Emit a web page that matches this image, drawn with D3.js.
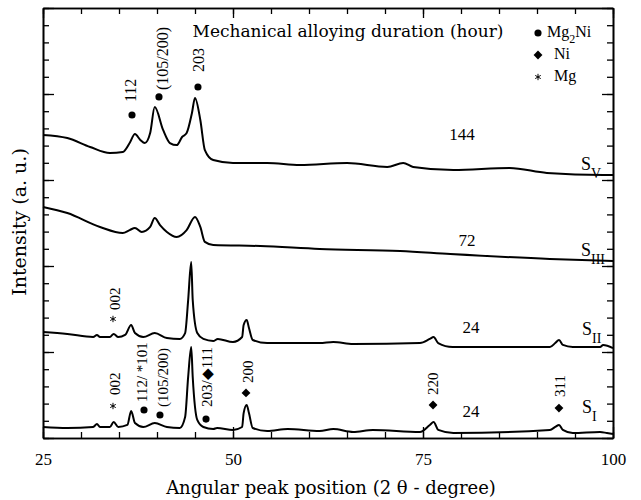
<!DOCTYPE html>
<html>
<head>
<meta charset="utf-8">
<script src="https://cdn.jsdelivr.net/npm/d3@7"></script>
<style>
body { margin: 0; background: #fff; }
text { fill: #000; }
</style>
</head>
<body>
<svg id="chart" width="641" height="500"></svg>
<script>
// [2 theta (degree), intensity (a.u., stacked)]
var trace_SV = [[25.0,17.62],[28.2,17.44],[31.2,16.92],[33.8,16.57],[35.5,16.63],[36.4,17.15],[37.1,17.67],[37.8,17.33],[38.4,17.15],[39.1,17.73],[39.7,19.24],[40.8,17.91],[41.7,17.15],[42.6,17.03],[43.3,17.50],[43.9,17.73],[44.6,18.90],[45.0,19.77],[45.7,18.49],[46.3,16.74],[47.4,16.16],[50.0,15.99],[54.5,15.99],[58.8,15.87],[65.0,15.99],[70.3,15.76],[72.4,15.99],[73.7,15.76],[79.0,15.58],[86.4,15.70],[91.3,15.41],[98.7,15.29],[100,15.29]];

var trace_SIII = [[25.0,13.43],[28.2,13.08],[32.5,12.27],[35.5,11.92],[36.4,12.09],[37.1,12.21],[38.0,11.98],[39.1,12.27],[39.7,12.79],[40.4,12.38],[41.3,11.98],[42.6,11.69],[43.9,12.09],[45.0,12.85],[45.7,12.27],[46.3,11.40],[47.4,11.22],[53.6,11.16],[61.4,10.99],[72.0,10.87],[78.6,10.70],[91.7,10.41],[100,10.29]];

var trace_SII = [[25.0,6.16],[28.2,6.05],[31.6,5.87],[32.1,5.99],[32.5,5.87],[33.8,5.87],[34.3,6.05],[34.9,5.87],[35.8,5.99],[36.6,6.57],[37.1,6.10],[38.2,5.87],[39.7,6.10],[41.3,5.81],[43.0,5.76],[43.7,6.10],[44.1,8.02],[44.5,10.23],[44.7,8.02],[45.3,6.10],[46.1,5.76],[47.4,5.64],[48.0,5.76],[50.0,5.58],[51.2,5.87],[51.4,6.57],[51.8,6.86],[52.1,6.40],[52.6,5.70],[54.5,5.52],[57.5,5.52],[61.4,5.52],[63.2,5.58],[65.8,5.47],[74.6,5.52],[75.9,5.76],[76.4,5.87],[77.0,5.52],[78.9,5.29],[91.7,5.29],[92.4,5.52],[92.9,5.70],[93.4,5.41],[94.7,5.29],[98.3,5.29],[98.7,5.41],[100,5.23]];

var trace_SI = [[25.0,0.64],[28.2,0.58],[31.6,0.64],[32.1,0.81],[32.5,0.64],[33.8,0.64],[34.3,0.93],[34.9,0.64],[36.1,0.76],[36.6,1.57],[37.1,0.87],[38.2,0.64],[39.7,0.87],[41.3,0.64],[43.0,0.58],[43.7,1.22],[44.1,3.55],[44.5,5.29],[44.7,3.55],[45.3,1.05],[46.1,0.64],[47.4,0.52],[47.9,0.58],[50.0,0.47],[51.2,0.64],[51.4,1.45],[51.8,1.92],[52.1,1.45],[52.6,0.58],[54.5,0.41],[57.2,0.52],[61.4,0.41],[63.2,0.52],[65.8,0.35],[68.4,0.47],[74.6,0.35],[75.9,0.76],[76.4,0.93],[77.0,0.47],[79.0,0.29],[91.7,0.47],[92.4,0.64],[92.9,0.76],[93.4,0.47],[94.7,0.29],[98.3,0.35],[99.2,0.29],[100,0.23]];

var traces = [trace_SV, trace_SIII, trace_SII, trace_SI];
var sample_names = ['V', 'III', 'II', 'I'];
var sample_pos = [[95.79,15.60],[95.79,10.58],[95.92,5.99],[95.92,1.45]];
var durations = ['144', '72', '24', '24'];
var duration_pos = [[80.13,17.33],[80.79,11.16],[81.32,6.10],[81.32,1.22]];

// phase markers: symbol, 2 theta, intensity
var peak_marks = [
	['circle',36.71,18.78],['circle',40.26,19.83],['circle',45.39,20.41],
	['asterisk',34.21,6.92],
	['asterisk',34.21,1.86],['circle',38.29,1.63],['circle',40.39,1.34],['circle',46.45,1.10],
	['diamond',51.71,2.62],['diamond',76.32,1.92],['diamond',92.89,1.74]
];
// hkl labels: text, 2 theta, intensity (start of vertical text)
var hkl_top = [['112',36.45,19.53],['(105/200)',40.66,20.23],['203',45.39,21.28]];
var hkl_bottom = [
	['002',34.47,7.44],['002',34.47,2.50],['112/ *101',38.03,2.09],['(105/200)',40.79,1.80],
	['203/\u25C6111',46.58,1.80],['200',51.97,3.20],['220',76.32,2.50],['311',93.03,2.38]
];

var legend_symbols = ['circle', 'diamond', 'asterisk'];
var legend_names = [['Mg','2','Ni'], ['Ni','',''], ['Mg','','']];
var x_labels = [25, 50, 75, 100];

var W = 641, H = 500;
var margin = {top: 8, right: 28, bottom: 62, left: 43};
var SERIF = '"Liberation Serif", "Times New Roman", serif';
var WIDE_SERIF = '"DejaVu Serif", serif';

var svg = d3.select('#chart');
var x = d3.scaleLinear().domain([25, 100]).range([margin.left, W - margin.right]);
var y = d3.scaleLinear().domain([0, 25]).range([H - margin.bottom, margin.top]);

function symbol_path(name)
{
	if(name == 'circle') return d3.symbol(d3.symbolCircle, 40)();
	if(name == 'diamond') return d3.symbol(d3.symbolDiamond2, 50)();
	return d3.symbol(d3.symbolAsterisk, 28)();
}

function draw_marker(g, name, px, py)
{
	var p = g.append('path')
		.attr('d', symbol_path(name))
		.attr('transform', 'translate(' + px + ',' + py + ')');
	if(name == 'asterisk')
		p.attr('fill', 'none').attr('stroke', '#000').attr('stroke-width', 1);
	else
		p.attr('fill', '#000');
}

function style_axis(g)
{
	g.select('.domain').attr('stroke', '#000').attr('stroke-width', 1.6);
	g.selectAll('.tick line').attr('stroke', '#000').attr('stroke-width', 1.3);
}

function draw_axes()
{
	var minor_x = d3.range(25, 101, 5);
	var minor_y = d3.range(0, 26, 1);
	var major_y = d3.range(0, 26, 5);
	var y0 = y(0), y1 = y(25), x0 = x(25), x1 = x(100);

	var bottom = svg.append('g').attr('transform', 'translate(0,' + y0 + ')');
	bottom.append('g').call(d3.axisBottom(x).tickValues(minor_x).tickSizeInner(-6).tickSizeOuter(0).tickFormat(''));
	bottom.append('g').call(d3.axisBottom(x).tickValues(x_labels).tickSizeInner(-11).tickSizeOuter(0).tickPadding(15))
		.selectAll('text').style('font-family', SERIF).style('font-size', '17px');

	var top = svg.append('g').attr('transform', 'translate(0,' + y1 + ')');
	top.append('g').call(d3.axisTop(x).tickValues(minor_x).tickSizeInner(-6).tickSizeOuter(0).tickFormat(''));
	top.append('g').call(d3.axisTop(x).tickValues(x_labels).tickSizeInner(-10).tickSizeOuter(0).tickFormat(''));

	var left = svg.append('g').attr('transform', 'translate(' + x0 + ',0)');
	left.append('g').call(d3.axisLeft(y).tickValues(minor_y).tickSizeInner(-6).tickSizeOuter(0).tickFormat(''));
	left.append('g').call(d3.axisLeft(y).tickValues(major_y).tickSizeInner(-11).tickSizeOuter(0).tickFormat(''));

	var right = svg.append('g').attr('transform', 'translate(' + x1 + ',0)');
	right.append('g').call(d3.axisRight(y).tickValues(minor_y).tickSizeInner(-6).tickSizeOuter(0).tickFormat(''));
	right.append('g').call(d3.axisRight(y).tickValues(major_y).tickSizeInner(-11).tickSizeOuter(0).tickFormat(''));

	svg.selectAll('g').each(function() { style_axis(d3.select(this)); });
	svg.selectAll('.tick text').attr('fill', '#000');

	svg.append('text')
		.attr('x', 331).attr('y', 494)
		.attr('text-anchor', 'middle')
		.style('font-family', WIDE_SERIF).style('font-size', '18px')
		.text('Angular peak position (2 \u03B8 - degree)');

	svg.append('text')
		.attr('transform', 'translate(26,' + 222 + ') rotate(-90)')
		.attr('text-anchor', 'middle')
		.style('font-family', WIDE_SERIF).style('font-size', '19px')
		.text('Intensity (a. u.)');
}

function draw_traces()
{
	var line = d3.line()
		.x(function(d) { return x(d[0]); })
		.y(function(d) { return y(d[1]); })
		.curve(d3.curveMonotoneX);

	svg.append('g').attr('id', 'traces')
		.selectAll('path')
		.data(traces)
		.enter()
		.append('path')
			.attr('d', line)
			.attr('fill', 'none')
			.attr('stroke', '#000')
			.attr('stroke-width', 2)
			.attr('stroke-linejoin', 'round');
}

function draw_labels()
{
	var g = svg.append('g').attr('id', 'labels');

	g.append('text')
		.attr('x', 348).attr('y', 37)
		.attr('text-anchor', 'middle')
		.style('font-family', WIDE_SERIF).style('font-size', '17px')
		.text('Mechanical alloying duration (hour)');

	peak_marks.forEach(function(m) { draw_marker(g, m[0], x(m[1]), y(m[2])); });

	function vertical(list, size)
	{
		list.forEach(function(h) {
			g.append('text')
				.attr('transform', 'translate(' + x(h[1]) + ',' + y(h[2]) + ') rotate(-90)')
				.attr('dy', '0.35em')
				.style('font-family', SERIF).style('font-size', size)
				.text(h[0]);
		});
	}
	vertical(hkl_top, '16px');
	vertical(hkl_bottom, '15px');

	durations.forEach(function(d, i) {
		g.append('text')
			.attr('x', x(duration_pos[i][0])).attr('y', y(duration_pos[i][1]))
			.attr('text-anchor', 'middle')
			.style('font-family', SERIF).style('font-size', '17px')
			.text(d);
	});

	sample_names.forEach(function(s, i) {
		var t = g.append('text')
			.attr('x', x(sample_pos[i][0])).attr('y', y(sample_pos[i][1]))
			.style('font-family', SERIF).style('font-size', '18px')
			.text('S');
		t.append('tspan').attr('dy', 8).style('font-size', '14px').text(s);
	});

	// legend
	legend_symbols.forEach(function(s, i) {
		var ly = 37 + i * 22;
		draw_marker(g, s, 538, ly - 4);
		var t = g.append('text')
			.attr('x', i == 0 ? 547 : 554).attr('y', ly)
			.style('font-family', SERIF).style('font-size', '16px')
			.text(legend_names[i][0]);
		if(legend_names[i][1] != '')
		{
			t.append('tspan').attr('dy', 6).style('font-size', '12px').text(legend_names[i][1]);
			t.append('tspan').attr('dy', -6).text(legend_names[i][2]);
		}
	});
}

draw_axes();
draw_traces();
draw_labels();
</script>
</body>
</html>
